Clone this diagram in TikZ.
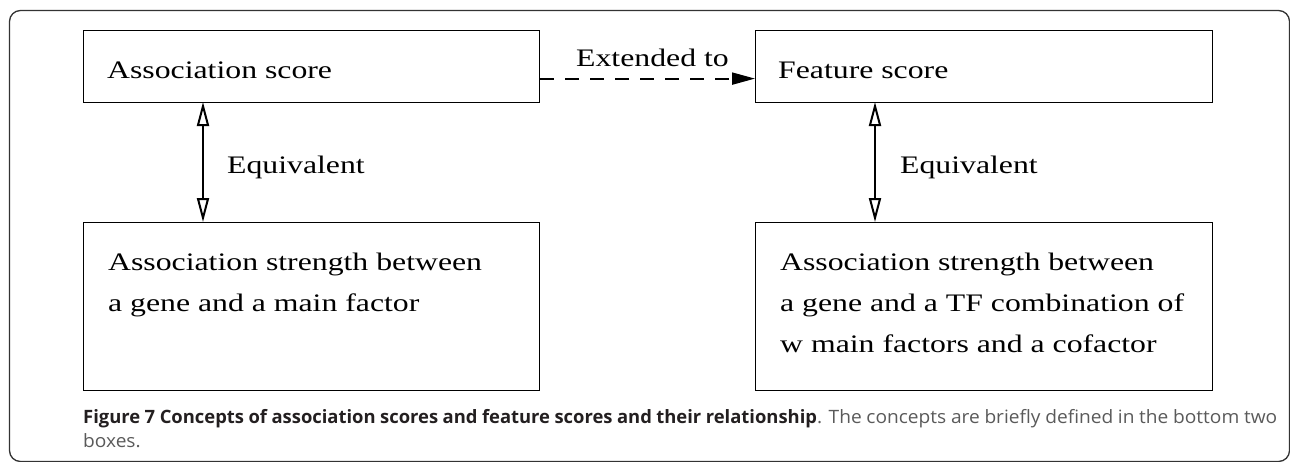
\documentclass[tikz,border=0pt]{standalone}
\usepackage{fontspec}
\setmainfont{Liberation Serif}
\newfontfamily\figfont[FakeStretch=1.26]{Liberation Serif}
\newfontfamily\capfont{Open Sans}
\newfontfamily\capnormfont[FakeStretch=1.04]{Open Sans}
\usetikzlibrary{arrows.meta}
\definecolor{framecol}{HTML}{333333}
\definecolor{capbold}{HTML}{231F20}
\definecolor{capnorm}{HTML}{5A5A5A}
\begin{document}
\begin{tikzpicture}[x=1pt,y=-1pt,
  box/.style={draw=black,line width=1.2pt,inner sep=0pt,anchor=north west},
  txt/.style={inner sep=0pt,anchor=base west,font=\figfont\fontsize{25.2}{41}\selectfont,align=left},
  equiv/.style={line width=2pt,{Triangle[open,length=24pt,width=12pt,fill=white]}-{Triangle[open,length=24pt,width=12pt,fill=white]}},
  ext/.style={line width=2pt,dash pattern=on 14pt off 11pt,-{Triangle[length=23pt,width=12pt]}}
]
\useasboundingbox (0,0) rectangle (1290,461);
\draw[framecol,line width=1.3pt,rounded corners=11pt] (9.5,10.5) rectangle (1289.5,461.5);

\node[box,minimum width=456pt,minimum height=72pt] (a1) at (83,30) {};
\node[box,minimum width=457pt,minimum height=72pt] (f1) at (755,30) {};
\node[box,minimum width=456pt,minimum height=168pt] (a2) at (83,222) {};
\node[box,minimum width=457pt,minimum height=168pt] (f2) at (755,222) {};

\node[txt] (ta1) at (107,78) {Association score};
\node[txt] (tf1) at (778,78) {Feature score};
% base anchor of a multi-line node = baseline of its last line
\node[txt] (ta2) at (108,311) {Association strength between\\a gene and a main factor};
\node[txt] (tf2) at (780,352) {Association strength between\\a gene and a TF combination of\\w main factors and a cofactor};

\coordinate (aup) at (203,102);
\coordinate (adn) at (203,222);
\coordinate (fup) at (875,102);
\coordinate (fdn) at (875,222);
\draw[equiv] (aup) -- (adn);
\draw[equiv] (fup) -- (fdn);
\node[txt] (ea) at (227,173) {Equivalent};
\node[txt] (ef) at (900,173) {Equivalent};

\draw[ext] ([yshift=-12pt]a1.east) -- ([yshift=-12pt]f1.west);
\node[txt] (ex) at (576,66) {Extended to};

\node[inner sep=0pt,anchor=base west,text width=1194pt,align=justify,
  font=\capfont\fontsize{18.4}{24}\selectfont] (cap) at (83,423)
  {\textcolor{capbold}{\bfseries Figure 7 Concepts of association scores and feature scores and their relationship}\textcolor{capnorm}{\capnormfont. The concepts are briefly defined in the bottom two boxes.}};
\end{tikzpicture}
\end{document}
